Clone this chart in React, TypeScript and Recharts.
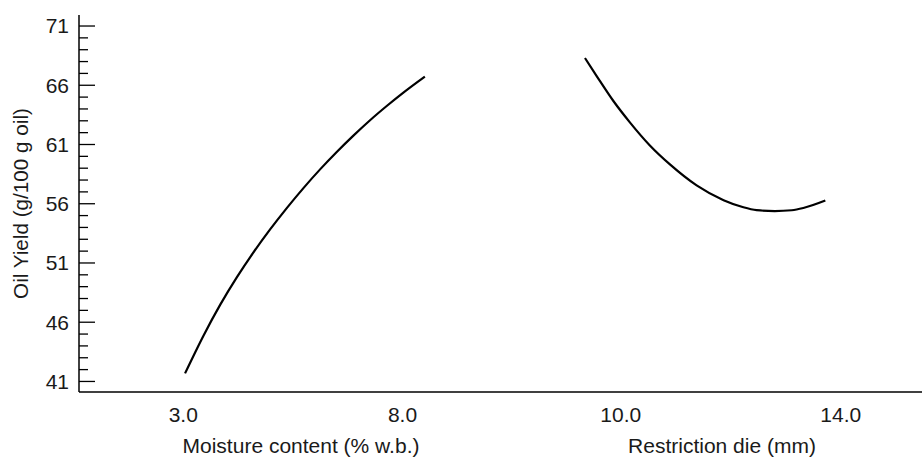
import React from 'react';
import { LineChart, Line, XAxis, YAxis, Label } from 'recharts';

// ---- data ----
const moistureX = [3.04, 3.46, 3.84, 4.22, 4.6, 4.98, 5.36, 5.74, 6.12, 6.5, 6.88, 7.26, 7.64, 8.02, 8.51];
const moistureYield = [41.68, 44.86, 47.46, 49.78, 51.89, 53.83, 55.63, 57.32, 58.9, 60.37, 61.75, 63.05, 64.25, 65.38, 66.73];

const dieX = [9.35, 9.56, 9.87, 10.17, 10.53, 10.9, 11.38, 11.87, 12.23, 12.47, 12.8, 13.11, 13.32, 13.72];
const dieYield = [68.3, 66.8, 64.65, 62.85, 60.92, 59.3, 57.55, 56.3, 55.7, 55.46, 55.38, 55.45, 55.64, 56.27];

const yMajorTicks = [41, 46, 51, 56, 61, 66, 71];
const yAllTicks = [41, 42, 43, 44, 45, 46, 47, 48, 49, 50, 51, 52, 53, 54, 55, 56, 57, 58, 59, 60, 61, 62, 63, 64, 65, 66, 67, 68, 69, 70, 71];
const moistureTicks = [3, 8];
const dieTicks = [10, 14];

const moistureData = moistureX.map((x, i) => ({ x, y: moistureYield[i] }));
const dieData = dieX.map((x, i) => ({ x, y: dieYield[i] }));

const FONT = '"Liberation Sans", Arial, Helvetica, sans-serif';
const TEXT = '#1a1a1a';
const Y_DOMAIN: [number, number] = [40.11, 71.93];
const MOIST_DOMAIN: [number, number] = [0.621, 10.703];
const DIE_DOMAIN: [number, number] = [8.187, 15.623];

const LeftYTick = (props: any) => {
  const { x, y, payload } = props;
  const v = payload.value;
  const major = yMajorTicks.includes(v);
  const ax = x + 10;
  return (
    <g>
      <line x1={ax} x2={ax + (major ? 16 : 9)} y1={y} y2={y} stroke="#000" strokeWidth={1.3} />
      {major && (
        <text x={x} y={y} dy="0.355em" textAnchor="end" fontSize={21} fontFamily={FONT} fill={TEXT}>
          {v}
        </text>
      )}
    </g>
  );
};

const RightYTick = (props: any) => {
  const { x, y, payload } = props;
  const v = payload.value;
  const major = yMajorTicks.includes(v);
  return <line x1={x - (major ? 16 : 9)} x2={x} y1={y} y2={y} stroke="#333" strokeWidth={1.3} />;
};

const XTitle = (shift: number, value: string) => (p: any) => {
  const vb = p.viewBox;
  return (
    <text
      x={vb.x + vb.width / 2 + shift}
      y={vb.y + vb.height - 4}
      textAnchor="middle"
      fontSize={21}
      fontFamily={FONT}
      fill={TEXT}
    >
      {value}
    </text>
  );
};

const YTitle = (p: any) => {
  const vb = p.viewBox;
  const cx = vb.x + 28;
  const cy = vb.y + vb.height / 2;
  return (
    <text
      x={cx}
      y={cy}
      transform={`rotate(-90 ${cx} ${cy})`}
      textAnchor="middle"
      fontSize={20.7}
      fontFamily={FONT}
      fill={TEXT}
    >
      Oil Yield (g/100 g oil)
    </text>
  );
};

const xTick = { fontSize: 21, fill: TEXT, fontFamily: FONT };

export default function App() {
  return (
    <div style={{ position: 'absolute', left: 0, top: 0, width: 922, height: 457, overflow: 'hidden', background: '#fff' }}>
      <div style={{ position: 'absolute', left: 0, top: 0 }}>
        <LineChart width={521} height={457} data={moistureData} margin={{ top: 15, right: 0, bottom: 0, left: 0 }}>
          <XAxis xAxisId="top" orientation="top" type="number" dataKey="x" domain={MOIST_DOMAIN} allowDataOverflow height={0} tick={false} tickLine={false} axisLine={{ stroke: '#000', strokeWidth: 1.3 }} />
          <XAxis
            xAxisId="m"
            type="number"
            dataKey="x"
            domain={MOIST_DOMAIN}
            allowDataOverflow
            ticks={moistureTicks}
            tickFormatter={(v: number) => v.toFixed(1)}
            tickLine={false}
            tickSize={0}
            tickMargin={15}
            height={65}
            tick={xTick}
            interval={0}
            axisLine={{ stroke: '#000', strokeWidth: 1.5 }}
          >
            <Label content={XTitle(1, 'Moisture content (% w.b.)')} />
          </XAxis>
          <YAxis
            type="number"
            domain={Y_DOMAIN}
            allowDataOverflow
            ticks={yAllTicks}
            interval={0}
            width={79}
            tickSize={0}
            tickMargin={10}
            tickLine={false}
            tick={<LeftYTick />}
            axisLine={{ stroke: '#000', strokeWidth: 1.5 }}
          >
            <Label content={YTitle} />
          </YAxis>
          <Line xAxisId="m" type="monotone" dataKey="y" stroke="#000" strokeWidth={2.2} dot={false} isAnimationActive={false} />
        </LineChart>
      </div>
      <div style={{ position: 'absolute', left: 521, top: 0 }}>
        <LineChart width={409} height={457} data={dieData} margin={{ top: 15, right: 0, bottom: 0, left: 0 }}>
          <XAxis xAxisId="top" orientation="top" type="number" dataKey="x" domain={DIE_DOMAIN} allowDataOverflow height={0} tick={false} tickLine={false} axisLine={{ stroke: '#000', strokeWidth: 1.3 }} />
          <XAxis
            xAxisId="d"
            type="number"
            dataKey="x"
            domain={DIE_DOMAIN}
            allowDataOverflow
            ticks={dieTicks}
            tickFormatter={(v: number) => v.toFixed(1)}
            tickLine={false}
            tickSize={0}
            tickMargin={15}
            height={65}
            tick={xTick}
            interval={0}
            axisLine={{ stroke: '#000', strokeWidth: 1.5 }}
          >
            <Label content={XTitle(-3.5, 'Restriction die (mm)')} />
          </XAxis>
          <YAxis
            orientation="right"
            type="number"
            domain={Y_DOMAIN}
            allowDataOverflow
            ticks={yAllTicks}
            interval={0}
            width={0}
            tickSize={0}
            tickMargin={0}
            tickLine={false}
            tick={<RightYTick />}
            axisLine={false}
          />
          <Line xAxisId="d" type="monotone" dataKey="y" stroke="#000" strokeWidth={2.2} dot={false} isAnimationActive={false} />
        </LineChart>
      </div>
    </div>
  );
}
